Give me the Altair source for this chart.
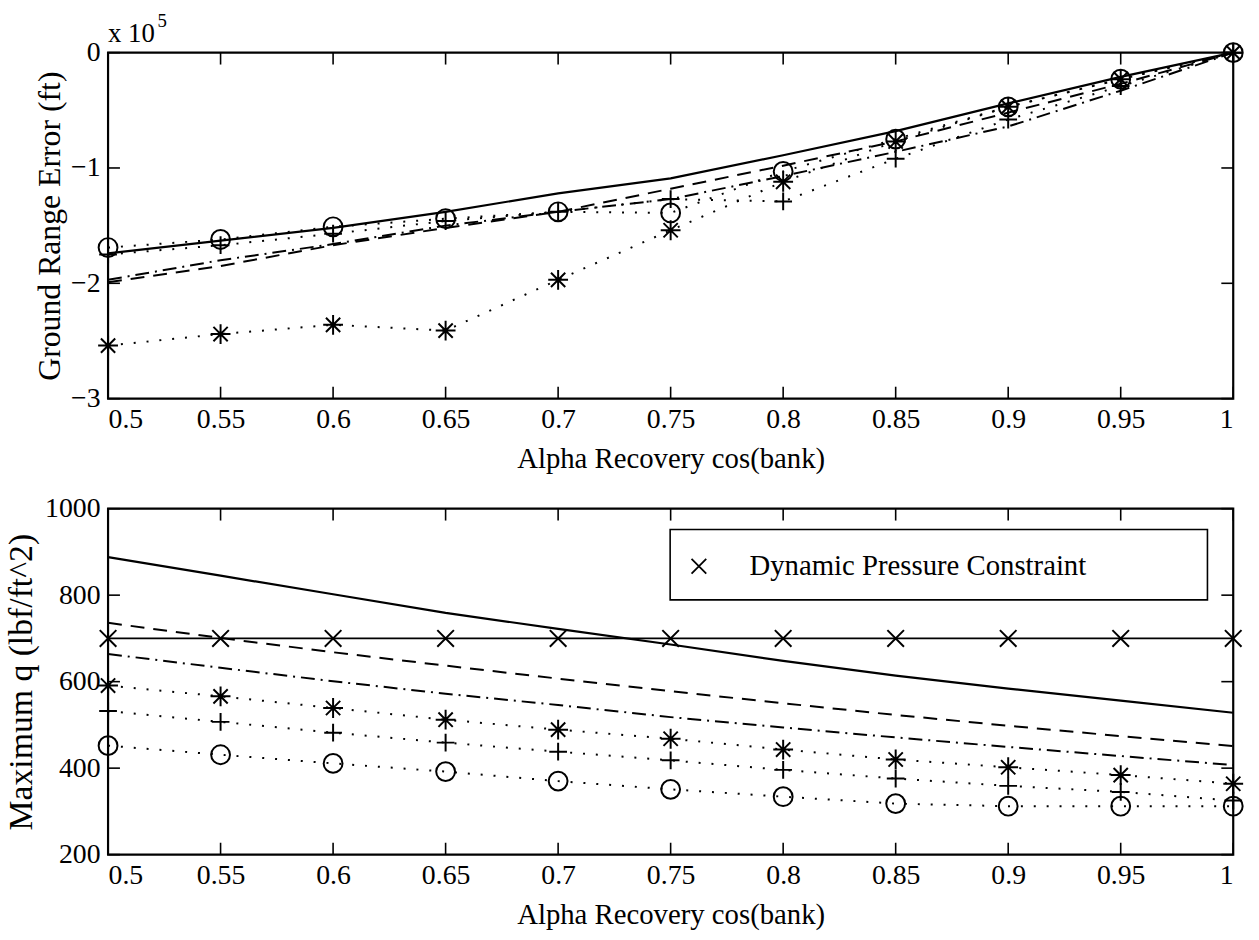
import altair as alt
import pandas as pd

FONT = "Liberation Serif"
W, H = 1135, 349
TICK = 12

cos_bank = [0.5, 0.55, 0.6, 0.65, 0.7, 0.75, 0.8, 0.85, 0.9, 0.95, 1.0]
x_ticks = [0.5, 0.55, 0.6, 0.65, 0.7, 0.75, 0.8, 0.85, 0.9, 0.95, 1.0]

# Ground range error (ft) for each guidance case
range_solid = [-174000, -163000, -152000, -138000, -122000, -109000, -89000, -68000, -44000, -21000, 0]
range_dashed = [-199000, -185000, -167000, -152000, -138000, -118000, -98000, -77000, -52000, -27000, 0]
range_dashdot = [-197000, -180000, -166000, -150000, -138000, -127000, -107000, -86000, -64000, -33000, 0]
range_circle = [-169000, -162000, -151000, -144000, -138000, -139000, -103000, -75000, -47000, -23000, 0]
range_plus = [-175000, -167000, -157000, -146000, -138000, -127000, -129000, -92000, -58000, -29000, 0]
range_star = [-254000, -244000, -236000, -241000, -197000, -154000, -112000, -77000, -47000, -23000, 0]
range_ticks = [-300000, -200000, -100000, 0]

# Maximum dynamic pressure (lbf/ft^2) for the same cases
q_solid = [888, 845, 802, 759, 722, 686, 648, 614, 584, 556, 528]
q_dashed = [736, 701, 668, 637, 607, 578, 550, 523, 498, 474, 451]
q_dashdot = [664, 632, 601, 572, 546, 518, 494, 471, 449, 428, 407]
q_star = [591, 566, 539, 512, 489, 468, 443, 420, 402, 384, 364]
q_plus = [532, 507, 482, 459, 438, 418, 396, 376, 359, 345, 325]
q_circle = [452, 431, 411, 392, 370, 351, 334, 318, 312, 312, 312]
q_limit = [700, 700, 700, 700, 700, 700, 700, 700, 700, 700, 700]
q_ticks = [200, 400, 600, 800, 1000]

legend_label = "Dynamic Pressure Constraint"

PLUS = "M-1,0L1,0M0,-1L0,1"
CROSS = "M-1,-1L1,1M-1,1L1,-1"
STAR = "M-1,0L1,0M0,-1L0,1M-0.72,-0.72L0.72,0.72M-0.72,0.72L0.72,-0.72"

SOLID = None
DASHED = [14, 9]
DASHDOT = [14, 6, 2, 6]
DOTTED = [2, 11]

x_scale = alt.Scale(domain=[0.5, 1.0], nice=False, zero=False)


def series(values):
    return pd.DataFrame({"x": cos_bank, "y": values})


def line(values, dash, y_scale, width=2.0):
    kw = dict(color="black", strokeWidth=width, clip=False)
    if dash is not None:
        kw["strokeDash"] = dash
    return alt.Chart(series(values)).mark_line(**kw).encode(
        x=alt.X("x:Q", scale=x_scale),
        y=alt.Y("y:Q", scale=y_scale),
    )


def marker(values, shape, size, y_scale):
    return alt.Chart(series(values)).mark_point(
        shape=shape, size=size, filled=False, color="black",
        strokeWidth=2, opacity=1, clip=False,
    ).encode(
        x=alt.X("x:Q", scale=x_scale),
        y=alt.Y("y:Q", scale=y_scale),
    )


def inner_ticks(y_values, y_scale):
    xt = pd.DataFrame({"x": x_ticks})
    yt = pd.DataFrame({"y": y_values})
    base_x = alt.Chart(xt).mark_rule(color="black", strokeWidth=1.6)
    base_y = alt.Chart(yt).mark_rule(color="black", strokeWidth=1.6)
    return [
        base_x.encode(x=alt.X("x:Q", scale=x_scale), y=alt.value(H), y2=alt.value(H - TICK)),
        base_x.encode(x=alt.X("x:Q", scale=x_scale), y=alt.value(0), y2=alt.value(TICK)),
        base_y.encode(y=alt.Y("y:Q", scale=y_scale), x=alt.value(0), x2=alt.value(TICK)),
        base_y.encode(y=alt.Y("y:Q", scale=y_scale), x=alt.value(W), x2=alt.value(W - TICK)),
    ]


x_axis = alt.Axis(
    values=x_ticks, format="~g", title="Alpha Recovery cos(bank)",
    ticks=False, domain=False, grid=False, labelPadding=7, titlePadding=11,
)

# ---- top panel: ground range error ----
y_top = alt.Scale(domain=[-300000, 0], nice=False, zero=False)
top_axis = alt.Axis(
    values=range_ticks, labelExpr="format(datum.value / 100000, 'd')",
    title="Ground Range Error (ft)", ticks=False, domain=False, grid=False,
    labelPadding=8, titlePadding=4, titleFontSize=32,
)

top_base = alt.Chart(series(range_solid)).mark_line(color="black", strokeWidth=2.2, clip=False).encode(
    x=alt.X("x:Q", scale=x_scale, axis=x_axis),
    y=alt.Y("y:Q", scale=y_top, axis=top_axis),
)

exp_text = alt.Chart(pd.DataFrame({"x": [0.5], "y": [0]})).mark_text(
    text="x 10", align="left", baseline="alphabetic", font=FONT, fontSize=27, dy=-11, color="black",
).encode(x=alt.X("x:Q", scale=x_scale), y=alt.Y("y:Q", scale=y_top))
exp_power = alt.Chart(pd.DataFrame({"x": [0.5], "y": [0]})).mark_text(
    text="5", align="left", baseline="alphabetic", font=FONT, fontSize=19, dx=50, dy=-26, color="black",
).encode(x=alt.X("x:Q", scale=x_scale), y=alt.Y("y:Q", scale=y_top))

top = alt.layer(
    top_base,
    line(range_dashed, DASHED, y_top),
    line(range_dashdot, DASHDOT, y_top),
    line(range_circle, DOTTED, y_top, 2),
    line(range_plus, DOTTED, y_top, 2),
    line(range_star, DOTTED, y_top, 2),
    marker(range_circle, "circle", 361, y_top),
    marker(range_plus, PLUS, 320, y_top),
    marker(range_star, STAR, 400, y_top),
    *inner_ticks(range_ticks, y_top),
    exp_text,
    exp_power,
).properties(width=W, height=H)

# ---- bottom panel: maximum dynamic pressure ----
y_bot = alt.Scale(domain=[200, 1000], nice=False, zero=False)
bot_axis = alt.Axis(
    values=q_ticks, format="d", title="Maximum q (lbf/ft^2)",
    ticks=False, domain=False, grid=False, labelPadding=8, titlePadding=6, titleFontSize=34,
)

bot_base = alt.Chart(series(q_solid)).mark_line(color="black", strokeWidth=2.2, clip=False).encode(
    x=alt.X("x:Q", scale=x_scale, axis=x_axis),
    y=alt.Y("y:Q", scale=y_bot, axis=bot_axis),
)

legend_box = alt.Chart(pd.DataFrame({"label": [legend_label]})).mark_rect(
    fill="white", stroke="black", strokeWidth=1.6,
).encode(x=alt.value(567), x2=alt.value(1109), y=alt.value(21), y2=alt.value(92))
legend_symbol = alt.Chart(pd.DataFrame({"label": [legend_label]})).mark_point(
    shape=CROSS, size=220, filled=False, color="black", strokeWidth=1.8, opacity=1,
).encode(x=alt.value(596), y=alt.value(58))
legend_text = alt.Chart(pd.DataFrame({"label": [legend_label]})).mark_text(
    align="left", baseline="middle", font=FONT, fontSize=29, color="black",
).encode(x=alt.value(647), y=alt.value(58), text="label:N")

bottom = alt.layer(
    bot_base,
    line(q_limit, SOLID, y_bot, 1.8),
    line(q_dashed, DASHED, y_bot),
    line(q_dashdot, DASHDOT, y_bot),
    line(q_star, DOTTED, y_bot, 2),
    line(q_plus, DOTTED, y_bot, 2),
    line(q_circle, DOTTED, y_bot, 2),
    marker(q_limit, CROSS, 280, y_bot),
    marker(q_star, STAR, 400, y_bot),
    marker(q_plus, PLUS, 320, y_bot),
    marker(q_circle, "circle", 361, y_bot),
    *inner_ticks(q_ticks, y_bot),
    legend_box,
    legend_symbol,
    legend_text,
).properties(width=W, height=H)

chart = alt.vconcat(top, bottom, spacing=111, bounds="flush").properties(
    padding={"left": 3, "top": 6, "right": 10, "bottom": 5},
    background="white",
).configure_view(
    stroke="black", strokeWidth=2.2,
).configure_axis(
    labelFont=FONT, labelFontSize=28, labelColor="black",
    titleFont=FONT, titleFontSize=29, titleFontWeight="normal", titleColor="black",
)

chart.save("out.html", embed_options={"renderer": "svg", "actions": False})
